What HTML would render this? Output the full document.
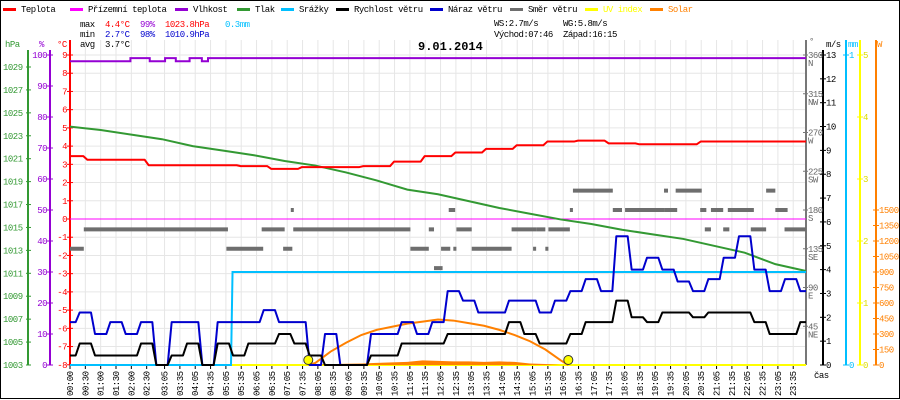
<!DOCTYPE html>
<html><head><meta charset="utf-8"><style>
body{margin:0;background:#fff}
svg{display:block;font-family:"Liberation Mono",monospace;font-size:9px;letter-spacing:-0.5px}
</style></head><body>
<svg id="c" width="900" height="400" viewBox="0 0 900 400">
<rect x="0.5" y="0.5" width="899" height="398" fill="#fff" stroke="#000"/>
<g id="grid"></g>
<g id="axes"></g>
<g id="series"></g>
<g id="legend"></g>
<g>
<text x="80" y="27">max</text><text x="105" y="27" fill="#f00">4.4°C</text><text x="140" y="27" fill="#9400d3">99%</text><text x="165" y="27" fill="#f00">1023.8hPa</text><text x="225" y="27" fill="#00bfff">0.3mm</text>
<text x="80" y="37">min</text><text x="105" y="37" fill="#0000cd">2.7°C</text><text x="140" y="37" fill="#0000cd">98%</text><text x="165" y="37" fill="#0000cd">1010.9hPa</text>
<text x="80" y="47">avg</text><text x="105" y="47">3.7°C</text>
<text x="494" y="26">WS:2.7m/s</text><text x="563" y="26">WG:5.8m/s</text>
<text x="494" y="37">Východ:07:46</text><text x="563" y="37">Západ:16:15</text>
<text x="418" y="50" font-size="12" font-weight="bold" letter-spacing="0">9.01.2014</text>
</g>
</svg>
<script>
// ---- data ----
const halfHours = [0,0.5,1,1.5,2,2.5,3,3.5,4,4.5,5,5.5,6,6.5,7,7.5,8,8.5,9,9.5,10,10.5,11,11.5,12,12.5,13,13.5,14,14.5,15,15.5,16,16.5,17,17.5,18,18.5,19,19.5,20,20.5,21,21.5,22,22.5,23,23.5,24];
const gustValues = [1.8,2.2,1.3,1.8,1.3,1.8,0,1.8,1.8,0,1.8,1.8,1.8,2.3,1.8,1.8,0,1.3,0,0,1.3,1.3,1.8,1.3,1.8,3.1,2.7,2.2,2.2,2.7,2.7,2.2,2.7,3.1,3.6,3.1,5.4,4.0,4.5,4.0,3.5,3.1,3.6,4.5,5.4,4.0,3.1,3.6,3.1];
const speedValues = [0.4,0.9,0.4,0.4,0.4,0.9,0,0.4,0.9,0,0.9,0.4,0.9,0.9,1.3,0.9,0.4,0,0,0,0.4,0.4,0.9,0.9,0.9,1.3,1.3,1.3,1.3,1.8,1.3,0.9,0.9,1.3,1.8,1.8,2.7,2.0,1.8,2.2,2.2,2.0,2.2,2.2,2.2,1.8,1.3,1.3,1.8];
const hours = [0,1,2,3,4,5,6,7,8,9,10,11,12,13,14,15,16,17,18,19,20,21,22,23,24];
const tempValues = [3.45,3.25,3.25,2.95,2.95,2.95,2.9,2.75,2.85,2.85,2.9,3.15,3.45,3.65,3.85,4.05,4.25,4.3,4.15,4.1,4.1,4.25,4.25,4.25,4.25];
const pressValues = [1023.8,1023.5,1023.1,1022.7,1022.1,1021.7,1021.3,1020.8,1020.4,1019.8,1019.1,1018.3,1017.9,1017.3,1016.7,1016.2,1015.7,1015.3,1014.8,1014.4,1014.0,1013.4,1012.8,1011.8,1011.2];
const humTimes = [0,1.97,2.6,3.1,3.45,3.9,4.3,4.5,24];
const humValues = [98,99,98,99,98,99,98,99,99];
const dewTimes = [0,24];
const dewValues = [0,0];
const rainTimes = [0,5.25,5.3,24];
const rainValues = [0,0,0.3,0.3];
const solarTheoryTimes = [7.77,8,8.5,9,9.5,10,10.5,11,11.5,12,12.5,13,13.5,14,14.5,15,15.5,16,16.25];
const solarTheoryValues = [0,20,130,215,290,340,370,400,420,440,430,405,380,340,290,230,150,45,0];
const solarTimes = [8,8.5,9,9.5,10,10.5,11,11.5,12,12.5,13,13.5,14,14.5,15,15.5,16];
const solarValues = [0,8,12,15,20,25,30,45,40,35,35,30,35,30,15,10,0];
const dirStart = [0,0.45,5.1,6.25,6.95,7.2,7.28,11.1,11.7,11.87,12.1,12.35,12.5,12.6,13.1,14.4,15.1,15.2,15.5,15.6,16.3,16.4,17.7,18.1,19.37,19.4,19.5,19.75,20.55,20.7,20.9,21.3,21.45,22.2,22.7,23.0,23.3];
const dirEnd   = [0.45,5.15,6.3,7.0,7.25,7.28,11.1,11.7,11.87,12.15,12.4,12.56,12.6,13.1,14.4,15.2,15.2,15.5,15.6,16.3,16.4,17.7,18.0,19.4,19.5,19.5,19.8,20.6,20.75,20.9,21.3,21.5,22.3,22.7,23.0,23.4,24];
const dirValues= [135,157.5,135,157.5,135,180,157.5,135,157.5,112.5,135,180,135,157.5,135,157.5,135,157.5,135,157.5,180,202.5,180,180,202.5,180,180,202.5,180,157.5,180,157.5,180,157.5,202.5,180,157.5];
const timeLabels = ["00:00","00:30","01:00","01:30","02:00","02:30","03:05","03:35","04:05","04:35","05:05","05:35","06:05","06:35","07:05","07:35","08:05","08:35","09:05","09:35","10:05","10:35","11:05","11:35","12:05","12:35","13:05","13:35","14:05","14:35","15:05","15:35","16:05","16:35","17:05","17:35","18:05","18:35","19:05","19:35","20:05","20:35","21:05","21:35","22:05","22:35","23:05","23:35"];
const sunTimes = [7.77,16.25];
// ---- scales ----
const X0=70,X1=806,YB=365,YT=55;
const x=t=>X0+t*(X1-X0)/24;
const yT=v=>219-v*(164/9);
const yP=v=>YB-(v-1003)*(298/26);
const yH=v=>YB-v*3.1;
const yW=v=>YB-v*(310/13);
const yMM=v=>YB-v*310;
const yUV=v=>YB-v*62;
const ySol=v=>YB-v*(155/1500);
const yDir=v=>YB-v*(310/360);
const NS='http://www.w3.org/2000/svg';
function mk(tag,attrs,parent,txt){const e=document.createElementNS(NS,tag);for(const k in attrs)e.setAttribute(k,attrs[k]);if(txt!==undefined)e.textContent=txt;parent.appendChild(e);return e;}
const G=document.getElementById('grid'),A=document.getElementById('axes'),S=document.getElementById('series'),L=document.getElementById('legend');
function tToH(s){const p=s.split(':');return +p[0]+(+p[1])/60;}
timeLabels.forEach(s=>{const gx=x(tToH(s));
 const l=mk('line',{x1:gx,x2:gx,y1:40,y2:YB,stroke:'#e6e6e6'},G);
 
 
 mk('line',{x1:gx,x2:gx,y1:YB,y2:YB+4,stroke:'#000'},A);
 const t=mk('text',{x:0,y:0,transform:`translate(${gx+3},396) rotate(-90)`},A,s);
 
 
});
for(let v=-8;v<=9;v++){const gy=yT(v);
 const l=mk('line',{x1:X0,x2:X1,y1:gy,y2:gy,stroke:'#e6e6e6'},G);
 
 
}
function axis(ax,col,y1,y2){const l=mk('line',{x1:ax,x2:ax,y1:y1,y2:y2,stroke:col,'stroke-width':2},A);}
axis(28,'#339933',50,YB);axis(50,'#9400d3',50,YB);axis(70,'#f00',40,YB);
for(let v=1003;v<=1029;v+=2){const t=mk('text',{x:3,y:yP(v)+3,fill:'#339933'},A,v);mk('line',{x1:26,x2:31,y1:yP(v),y2:yP(v),stroke:'#339933'},A);}
for(let v=0;v<=100;v+=10){const t=mk('text',{x:47,y:yH(v)+3,fill:'#9400d3','text-anchor':'end'},A,v);mk('line',{x1:47,x2:53,y1:yH(v),y2:yH(v),stroke:'#9400d3'},A);}
for(let v=-8;v<=9;v++){const t=mk('text',{x:67,y:yT(v)+3,fill:'#f00','text-anchor':'end'},A,v);mk('line',{x1:67,x2:73,y1:yT(v),y2:yT(v),stroke:'#f00'},A);}
mk('text',{x:5,y:47,fill:'#339933'},A,'hPa');mk('text',{x:39,y:47,fill:'#9400d3'},A,'%');mk('text',{x:57,y:47,fill:'#f00'},A,'°C');
axis(806,'#777',40,YB);axis(823,'#000',50,YB);axis(846,'#00bfff',40,YB);axis(860,'#ffff00',40,YB);axis(876,'#ff8000',40,YB);
const dirNames=['','NE','E','SE','S','SW','W','NW','N'];
for(let i=1;i<=8;i++){const v=i*45,gy=yDir(v);mk('text',{x:808,y:gy+3,fill:'#666'},A,v);mk('text',{x:808,y:gy+11,fill:'#666'},A,dirNames[i]);mk('line',{x1:803,x2:808,y1:gy,y2:gy,stroke:'#777'},A);}
for(let v=0;v<=13;v++){const t=mk('text',{x:826,y:yW(v)+3,fill:'#000'},A,v);mk('line',{x1:820,x2:826,y1:yW(v),y2:yW(v),stroke:'#000'},A);}
[0,1].forEach(v=>{mk('text',{x:849,y:yMM(v)+3,fill:'#00bfff'},A,v);mk('line',{x1:843,x2:849,y1:yMM(v),y2:yMM(v),stroke:'#00bfff'},A);});
for(let v=0;v<=5;v++){mk('text',{x:863,y:yUV(v)+3,fill:'#dddd00'},A,v);mk('line',{x1:857,x2:863,y1:yUV(v),y2:yUV(v),stroke:'#ffff00'},A);}
for(let v=0;v<=1500;v+=150){mk('text',{x:879,y:ySol(v)+3,fill:'#ff8000'},A,v);mk('line',{x1:873,x2:879,y1:ySol(v),y2:ySol(v),stroke:'#ff8000'},A);}
mk('text',{x:809,y:44,fill:'#666'},A,'°');mk('text',{x:826,y:47},A,'m/s');mk('text',{x:848,y:47,fill:'#00bfff'},A,'mm');mk('text',{x:877,y:47,fill:'#ff8000'},A,'W');
mk('text',{x:814,y:378},A,'čas');
function line(ts,vs,yf,col,w,step){let pts=[];ts.forEach((t,i)=>{if(step&&i>0)pts.push(x(t)+','+yf(vs[i-1]));pts.push(x(t)+','+yf(vs[i]));});
 return mk('polyline',{points:pts.join(' '),fill:'none',stroke:col,'stroke-width':w},S);}
// centered plateaus with short ramps
function ramp(ts,vs,yf,col,w){let pts=[];const n=ts.length;
 ts.forEach((t,i)=>{const a=i>0?(x(ts[i-1])+x(t))/2+2:x(t);const b=i<n-1?(x(t)+x(ts[i+1]))/2-2:x(t);
  pts.push(a+','+yf(vs[i]));pts.push(b+','+yf(vs[i]));});
 return mk('polyline',{points:pts.join(' '),fill:'none',stroke:col,'stroke-width':w,'stroke-linejoin':'round'},S);}
let p;
p=line([0,24],[0,0],yUV,'#ffff00',2);
{let pts=[x(solarTimes[0])+','+YB];solarTimes.forEach((t,i)=>pts.push(x(t)+','+ySol(solarValues[i])));pts.push(x(solarTimes[solarTimes.length-1])+','+YB);
 const f=mk('polygon',{points:pts.join(' '),fill:'#ff8000'},S);}
p=line(solarTheoryTimes,solarTheoryValues,ySol,'#ff8000',2);
p=line(dewTimes,dewValues,yT,'#ff00ff',1);
dirValues.forEach((v,i)=>{const r=mk('rect',{x:x(dirStart[i]),y:yDir(v)-2,width:Math.max(3,x(dirEnd[i])-x(dirStart[i])),height:4,fill:'#6e6e6e'},S);
 
 });
p=line(hours,pressValues,yP,'#339933',2);
p=line(humTimes,humValues,yH,'#9400d3',2,true);
p=ramp(hours,tempValues,yT,'#f00',2);
p=line(rainTimes,rainValues,yMM,'#00bfff',2);
p=ramp(halfHours,gustValues,yW,'#0000cd',2);
p=ramp(halfHours,speedValues,yW,'#000',2);
sunTimes.forEach(t=>{const c=mk('circle',{cx:x(t),cy:360,r:4.5,fill:'#ffff00',stroke:'#333'},S);});
const legNames=['Teplota','Přízemní teplota','Vlhkost','Tlak','Srážky','Rychlost větru','Náraz větru','Směr větru','UV index','Solar'];
const legCols=['#f00','#ff00ff','#9400d3','#339933','#00bfff','#000','#0000cd','#6e6e6e','#ffff00','#ff8000'];
const legX=[3,70,175,237,281,336,430,510,585,650];
legNames.forEach((n,i)=>{const g=mk('g',{},L);
 
 
 mk('rect',{x:legX[i],y:8,width:13,height:3,fill:legCols[i]},g);
 mk('text',{x:legX[i]+18,y:12,fill:(i>=8?legCols[i]:'#000')},g,n);});
</script>
</body></html>
